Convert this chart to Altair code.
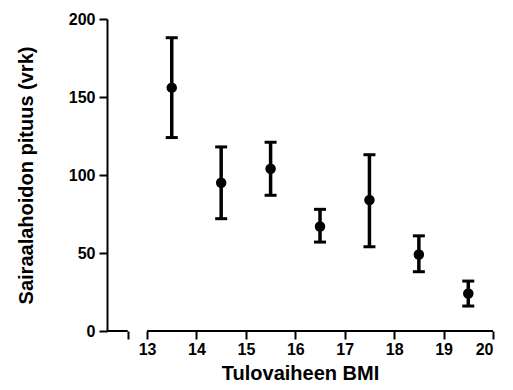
import altair as alt
import pandas as pd

# Data
bmi = [13.5, 14.5, 15.5, 16.5, 17.5, 18.5, 19.5]
mean_days = [156, 95, 104, 67, 84, 49, 24]
upper = [188, 118, 121, 78, 113, 61, 32]
lower = [124, 72, 87, 57, 54, 38, 16]

x_ticks = [12.61, 13, 14, 15, 16, 17, 18, 19, 20]
y_ticks = [0, 50, 100, 150, 200]

# broken x-axis line segments
seg_start = [12.19, 13]
seg_end = [12.61, 20]

df = pd.DataFrame({"bmi": bmi, "mean": mean_days, "hi": upper, "lo": lower})
segs = pd.DataFrame({"s": seg_start, "e": seg_end, "y": [0, 0]})

FONT = "Liberation Sans"

xscale = alt.Scale(domain=[12.19, 20], nice=False, zero=False)
yscale = alt.Scale(domain=[0, 200], nice=False)

common = dict(
    grid=False,
    tickColor="black",
    tickWidth=2,
    labelFont=FONT,
    labelFontSize=16,
    labelFontWeight=700,
    labelColor="black",
    titleFont=FONT,
    titleFontSize=20,
    titleFontWeight=700,
    titleColor="black",
)

xaxis = alt.Axis(
    values=x_ticks,
    labelExpr="datum.value < 13 ? '' : datum.label",
    domain=False,
    tickSize=8,
    labelPadding=2,
    title="Tulovaiheen BMI",
    titlePadding=6,
    **common,
)

yaxis = alt.Axis(
    values=y_ticks,
    domain=True,
    domainColor="black",
    domainWidth=2,
    tickSize=8,
    labelPadding=4,
    title="Sairaalahoidon pituus (vrk)",
    titlePadding=32,
    **common,
)

base = alt.Chart(df)

xline = alt.Chart(segs).mark_rule(color="black", strokeWidth=2).encode(
    x=alt.X("s:Q", scale=xscale, axis=xaxis),
    x2="e:Q",
    y=alt.Y("y:Q", scale=yscale, axis=yaxis),
)

bars = base.mark_rule(color="black", strokeWidth=3.5, opacity=1).encode(
    x=alt.X("bmi:Q", scale=xscale, axis=xaxis),
    y=alt.Y("lo:Q", scale=yscale, axis=yaxis),
    y2="hi:Q",
)

cap_hi = base.mark_tick(color="black", thickness=3, size=12, orient="horizontal", opacity=1).encode(
    x=alt.X("bmi:Q", scale=xscale, axis=xaxis),
    y=alt.Y("hi:Q", scale=yscale, axis=yaxis),
)
cap_lo = base.mark_tick(color="black", thickness=3, size=12, orient="horizontal", opacity=1).encode(
    x=alt.X("bmi:Q", scale=xscale, axis=xaxis),
    y=alt.Y("lo:Q", scale=yscale, axis=yaxis),
)

points = base.mark_point(filled=True, color="black", size=110, opacity=1).encode(
    x=alt.X("bmi:Q", scale=xscale, axis=xaxis),
    y=alt.Y("mean:Q", scale=yscale, axis=yaxis),
)

chart = alt.layer(xline, bars, cap_hi, cap_lo, points).properties(
    width=386,
    height=312,
    padding={"left": 99, "top": 11, "right": 12, "bottom": 55},
    autosize=alt.AutoSizeParams(type="none"),
    background="white",
).configure_view(stroke=None)

chart.save("out.html", embed_options={"renderer": "svg", "actions": False})
